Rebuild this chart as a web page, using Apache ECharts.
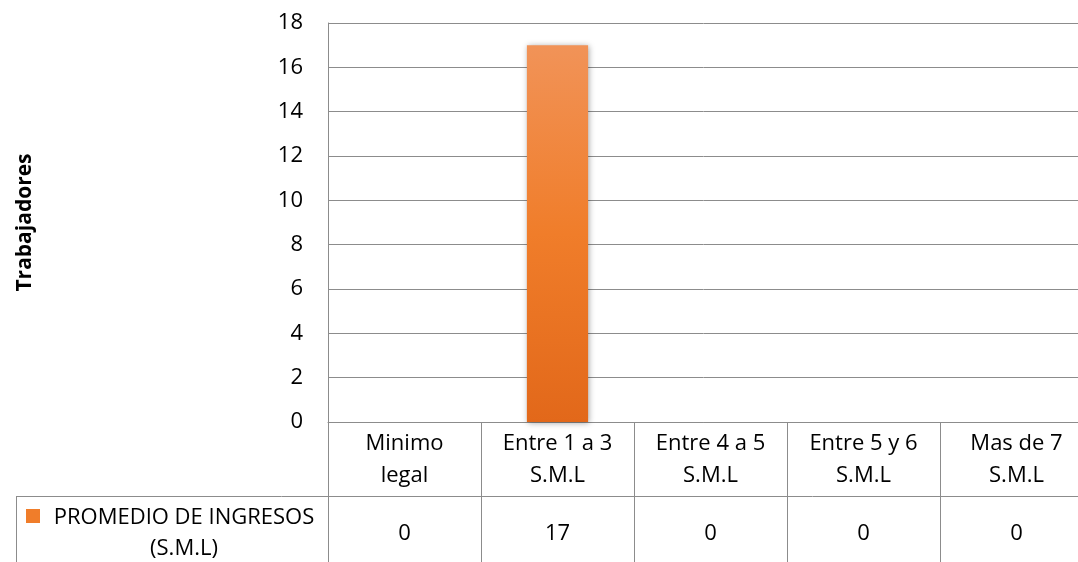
<!DOCTYPE html>
<html>
<head>
<meta charset="utf-8">
<script src="https://cdn.jsdelivr.net/npm/echarts@6/dist/echarts.min.js"></script>
<style>
  html, body { margin: 0; padding: 0; background: #fff; }
  #chart { width: 1078px; height: 562px; }
</style>
</head>
<body>
<div id="chart"></div>
<script>
const categories = ['Minimo\nlegal', 'Entre 1 a 3\nS.M.L', 'Entre 4 a 5\nS.M.L', 'Entre 5 y 6\nS.M.L', 'Mas de 7\nS.M.L'];
const values = [0, 17, 0, 0, 0];
const seriesName = 'PROMEDIO DE INGRESOS\n(S.M.L)';
const yTicks = { min: 0, max: 18, interval: 2 };

const font = 'Open Sans';
const fs = 22;
const lineColor = '#8c8c8c';

const chart = echarts.init(document.getElementById('chart'));

const option = {
    animation: false,
    textStyle: { fontFamily: font },
    grid: { left: 328, width: 765, top: 23, height: 399, outerBoundsMode: 'none', containLabel: false },
    xAxis: [
        {
            type: 'category',
            data: categories,
            axisLine: { lineStyle: { color: lineColor } },
            axisTick: { show: true, length: 140, lineStyle: { color: lineColor } },
            axisLabel: { color: '#000', fontSize: fs, lineHeight: 32, margin: 6, interval: 0 }
        },
        {
            type: 'category',
            data: values.map(String),
            position: 'bottom',
            offset: 101,
            axisLine: { show: false },
            axisTick: { show: false },
            axisLabel: { color: '#000', fontSize: fs, margin: 0, interval: 0 }
        }
    ],
    yAxis: {
        type: 'value',
        min: yTicks.min,
        max: yTicks.max,
        interval: yTicks.interval,
        name: 'Trabajadores',
        nameLocation: 'middle',
        nameGap: 292,
        nameTextStyle: { fontSize: 21, fontWeight: 'bold', color: '#000' },
        axisLine: { show: true, lineStyle: { color: lineColor } },
        axisTick: { show: false },
        axisLabel: { color: '#000', fontSize: fs, margin: 25 },
        splitLine: { lineStyle: { color: lineColor, width: 1 } }
    },
    series: [{
        name: seriesName,
        type: 'bar',
        data: values,
        barWidth: '40%',
        itemStyle: {
            color: new echarts.graphic.LinearGradient(0, 0, 0, 1, [
                { offset: 0, color: '#f19358' },
                { offset: 0.5, color: '#f07d2a' },
                { offset: 1, color: '#e2681a' }
            ]),
            shadowColor: 'rgba(0,0,0,0.35)',
            shadowBlur: 6,
            shadowOffsetX: 1,
            shadowOffsetY: 1
        }
    }],
    graphic: [
        { type: 'line', shape: { x1: 16, y1: 496.5, x2: 1078, y2: 496.5 }, style: { stroke: lineColor, lineWidth: 1 } },
        { type: 'line', shape: { x1: 16.5, y1: 496, x2: 16.5, y2: 562 }, style: { stroke: lineColor, lineWidth: 1 } },
        { type: 'rect', shape: { x: 26, y: 509, width: 14, height: 14 }, style: { fill: '#f07d2a' } },
        {
            type: 'text', x: 184, y: 502,
            style: { text: seriesName, fontFamily: font, fontSize: fs, fill: '#000', align: 'center', lineHeight: 31 }
        }
    ]
};

chart.setOption(option);
</script>
</body>
</html>
